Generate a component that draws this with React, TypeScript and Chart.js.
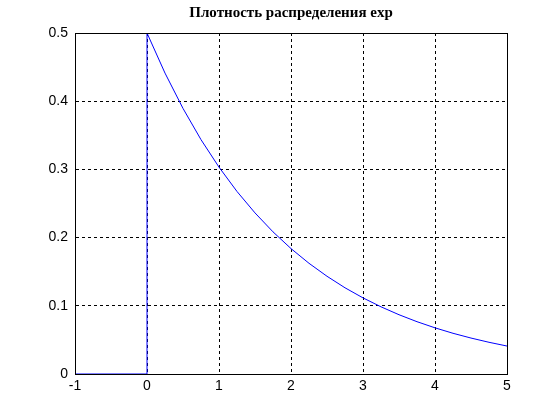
import React, { useEffect, useRef } from "react";
import { Chart, registerables } from "chart.js";

Chart.register(...registerables);

const titleText = "Плотность распределения exp";
const xValues = [-1, 0, 0, 0.25, 0.5, 0.75, 1, 1.25, 1.5, 1.75, 2, 2.25, 2.5, 2.75, 3, 3.25, 3.5, 3.75, 4, 4.25, 4.5, 4.75, 5];
const yValues = [0, 0, 0.5, 0.4412, 0.3894, 0.3436, 0.3033, 0.2676, 0.2362, 0.2084, 0.1839, 0.1623, 0.1433, 0.1264, 0.1116, 0.0985, 0.0869, 0.0767, 0.0677, 0.0597, 0.0527, 0.0465, 0.041];
const xTicks = [-1, 0, 1, 2, 3, 4, 5];
const yTicks = [0, 0.1, 0.2, 0.3, 0.4, 0.5];

const boxPlugin = {
  id: "box",
  afterDraw(chart: any) {
    const { ctx, chartArea } = chart;
    ctx.save();
    ctx.strokeStyle = "#000";
    ctx.lineWidth = 1;
    ctx.setLineDash([]);
    ctx.strokeRect(
      Math.round(chartArea.left) + 0.5,
      Math.round(chartArea.top) + 0.5,
      Math.round(chartArea.right - chartArea.left),
      Math.round(chartArea.bottom - chartArea.top)
    );
    // title centred over the plot area
    ctx.fillStyle = "#000";
    ctx.font = "bold 15px 'Liberation Serif', 'Times New Roman', serif";
    ctx.textAlign = "center";
    ctx.textBaseline = "middle";
    ctx.fillText(titleText, (chartArea.left + chartArea.right) / 2, 13);
    ctx.restore();
  },
};

export default function App() {
  const ref = useRef<HTMLCanvasElement>(null);
  useEffect(() => {
    if (!ref.current) return;
    const data = xValues.map((x, i) => ({ x, y: yValues[i] }));
    const chart = new Chart(ref.current, {
      type: "line",
      data: {
        datasets: [
          {
            data,
            borderColor: "#0000ff",
            borderWidth: 1,
            pointRadius: 0,
            fill: false,
            tension: 0,
          },
        ],
      },
      options: {
        responsive: false,
        animation: false,
        layout: { padding: { left: 0, right: 53, top: 33, bottom: 0 } },
        plugins: {
          legend: { display: false },
          tooltip: { enabled: false },
          title: { display: false },
        },
        scales: {
          x: {
            type: "linear",
            min: -1,
            max: 5,
            afterBuildTicks: (scale: any) => {
              scale.ticks = xTicks.map((v) => ({ value: v }));
            },
            afterFit: (scale: any) => {
              scale.height = 46;
            },
            ticks: {
              color: "#000",
              font: { family: "'Liberation Sans', Arial, sans-serif", size: 14 },
              padding: 4,
              maxRotation: 0,
              autoSkip: false,
            },
            grid: {
              color: "#000",
              lineWidth: 1,
              drawTicks: false,
            },
            border: { display: true, color: "#000", dash: [3, 3] },
          },
          y: {
            type: "linear",
            min: 0,
            max: 0.5,
            afterBuildTicks: (scale: any) => {
              scale.ticks = yTicks.map((v) => ({ value: v }));
            },
            afterFit: (scale: any) => {
              scale.width = 75;
            },
            ticks: {
              color: "#000",
              font: { family: "'Liberation Sans', Arial, sans-serif", size: 14 },
              padding: 7,
              autoSkip: false,
              callback: (v: any) => String(Math.round(Number(v) * 10) / 10),
            },
            grid: {
              color: "#000",
              lineWidth: 1,
              drawTicks: false,
            },
            border: { display: true, color: "#000", dash: [3, 3] },
          },
        },
      },
      plugins: [boxPlugin],
    });
    return () => chart.destroy();
  }, []);
  return (
    <div style={{ position: "fixed", left: 0, top: 0, width: 560, height: 420, background: "#fff" }}>
      <canvas ref={ref} width={560} height={420} style={{ display: "block" }} />
    </div>
  );
}
